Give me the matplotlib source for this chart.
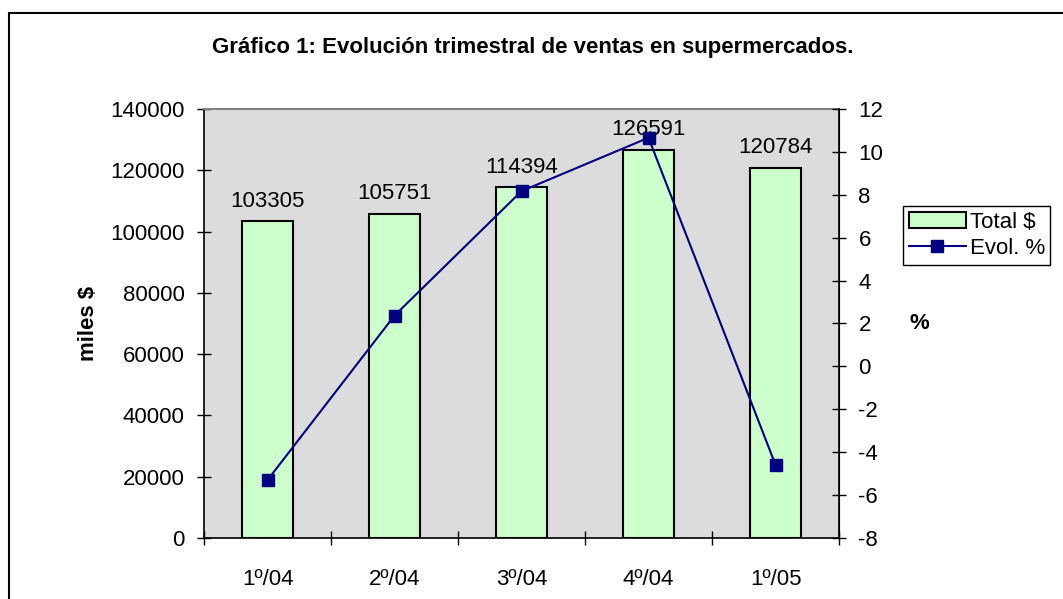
import numpy as np
import matplotlib.pyplot as plt
from matplotlib.patches import Rectangle

plt.rcParams['font.family'] = ['Liberation Sans', 'DejaVu Sans']
plt.rcParams['axes.unicode_minus'] = False

trimestres = ["1º/04", "2º/04", "3º/04", "4º/04", "1º/05"]
total_ventas = [103305, 105751, 114394, 126591, 120784]
evolucion = [-5.3, 2.37, 8.17, 10.66, -4.59]

fig = plt.figure(figsize=(10.63, 5.99), dpi=100)
fig.patch.set_facecolor("white")

# marco exterior del grafico
fig.patches.append(Rectangle((9 / 1063, -0.05), 1.1, 1 - 13 / 599 + 0.05,
                             transform=fig.transFigure, fill=False,
                             edgecolor="black", linewidth=1.5))

ax = fig.add_axes([204 / 1063, 1 - 538 / 599, 635 / 1063, 429 / 599])
ax.set_facecolor("#DCDCDC")
x = np.arange(len(trimestres))
barras = ax.bar(x, total_ventas, width=0.4, color="#CCFFCC", edgecolor="black",
                linewidth=1.5, label="Total $", zorder=2)
for xi, v in zip(x, total_ventas):
    ax.annotate(str(v), (xi, v), xytext=(0, 7), textcoords="offset points",
                ha="center", va="bottom", fontsize=16)

ax.set_xlim(-0.5, len(trimestres) - 0.5)
ax.set_ylim(0, 140000)
ax.set_yticks(np.arange(0, 140001, 20000))
ax.set_xticks(np.arange(-0.5, len(trimestres)), minor=False)
ax.set_xticklabels([])
ax.set_xticks(x, minor=True)
ax.set_xticklabels(trimestres, minor=True, fontsize=16)
ax.tick_params(axis="x", which="minor", length=0, pad=22)
ax.tick_params(axis="x", which="major", direction="inout", length=10, width=1)
ax.tick_params(axis="y", direction="inout", length=10, width=1, labelsize=16, pad=9)
ax.set_ylabel("miles $", fontsize=16, fontweight="bold", labelpad=8)
ax.spines["top"].set_color("#808080")
ax.spines["top"].set_linewidth(1.5)
for s in ["left", "bottom"]:
    ax.spines[s].set_linewidth(1.2)

ax2 = ax.twinx()
linea, = ax2.plot(x, evolucion, color="#000080", linewidth=1.5, marker="s",
                  markersize=9, label="Evol. %", zorder=3)
ax2.set_ylim(-8, 12)
ax2.set_yticks(np.arange(-8, 13, 2))
ax2.tick_params(axis="y", direction="inout", length=10, width=1, labelsize=16, pad=9)
ax2.spines["right"].set_linewidth(1.2)
ax2.spines["top"].set_visible(False)
ax2.spines["left"].set_visible(False)
ax2.spines["bottom"].set_visible(False)
ax2.set_ylabel("%", fontsize=16, fontweight="bold", rotation=0, labelpad=26, va="center")

fig.legend(handles=[barras, linea], loc="upper left",
           bbox_to_anchor=(903 / 1063, 1 - 206 / 599), fontsize=16,
           frameon=True, fancybox=False, edgecolor="black", framealpha=1,
           borderpad=0.25, labelspacing=0.25, handlelength=2.6, handletextpad=0.15,
           borderaxespad=0)

fig.text(533 / 1063, 1 - 48 / 599, "Gráfico 1: Evolución trimestral de ventas en supermercados.",
         ha="center", va="center", fontsize=16, fontweight="bold")

fig.savefig("out.png", dpi=100)
